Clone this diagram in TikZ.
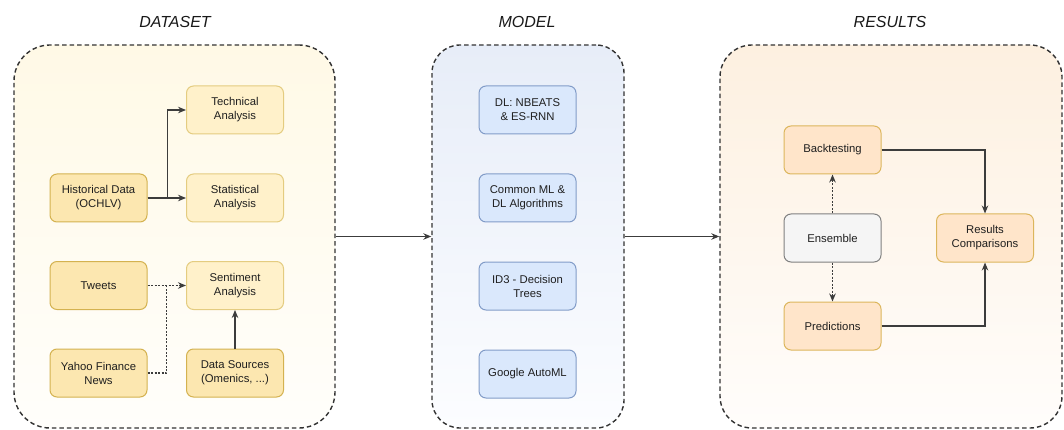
\documentclass[tikz,border=0pt]{standalone}
\usepackage{fontspec}
\setmainfont{Liberation Sans}
\usetikzlibrary{arrows.meta,calc}

\definecolor{dsTop}{RGB}{255,249,230}
\definecolor{dsBot}{RGB}{255,254,251}
\definecolor{mdTop}{RGB}{231,237,248}
\definecolor{mdBot}{RGB}{252,253,255}
\definecolor{rsTop}{RGB}{253,240,224}
\definecolor{rsBot}{RGB}{255,253,251}
\definecolor{yelFill}{RGB}{252,231,176}
\definecolor{yelLight}{RGB}{255,241,202}
\definecolor{yelLine}{RGB}{212,178,80}
\definecolor{yelLineL}{RGB}{228,204,128}
\definecolor{bluFill}{RGB}{218,232,252}
\definecolor{bluLine}{RGB}{130,156,200}
\definecolor{orgFill}{RGB}{255,229,202}
\definecolor{orgLine}{RGB}{220,182,92}
\definecolor{gryFill}{RGB}{245,245,245}
\definecolor{gryLine}{RGB}{128,128,128}
\definecolor{ink}{RGB}{60,60,60}

\tikzset{
  container/.style={draw=ink!85!black, line width=1.4pt, dash pattern=on 4.5pt off 3pt,
    rounded corners=32pt, inner sep=0pt},
  title/.style={font=\itshape\fontsize{16}{19}\selectfont, text=black!90},
  box/.style={rounded corners=7pt, minimum width=97pt, minimum height=48pt,
    line width=1pt, align=center, inner sep=2pt,
    font=\fontsize{11.3}{14}\selectfont, text=black!88},
  yel/.style={box, fill=yelFill, draw=yelLine},
  yell/.style={box, fill=yelLight, draw=yelLineL},
  blu/.style={box, fill=bluFill, draw=bluLine},
  org/.style={box, fill=orgFill, draw=orgLine},
  gry/.style={box, fill=gryFill, draw=gryLine},
  arr/.style={draw=ink, line width=1.2pt, -{Stealth[length=8pt,width=6.5pt]}},
  dotarr/.style={arr, dash pattern=on 2pt off 1.5pt},
  dotline/.style={draw=ink, line width=1.2pt, dash pattern=on 2pt off 1.5pt},
}

\begin{document}
\begin{tikzpicture}[x=1pt, y=-1pt]
\useasboundingbox (0,0) rectangle (1064,430);

% section frames
\node[container, top color=dsTop, bottom color=dsBot,
      minimum width=321pt, minimum height=383pt, rounded corners=36pt]
      (dsbox) at (174.5,236.5) {};
\node[container, top color=mdTop, bottom color=mdBot,
      minimum width=192pt, minimum height=383pt, rounded corners=28pt]
      (mdbox) at (528,236.5) {};
\node[container, top color=rsTop, bottom color=rsBot,
      minimum width=342pt, minimum height=383pt]
      (rsbox) at (891,236.5) {};

% section titles
\node[title] (tds) at (175,22) {DATASET};
\node[title] (tmd) at (527,22) {MODEL};
\node[title] (trs) at (890,22) {RESULTS};

% dataset
\node[yel]  (hist)   at (98.5,198) {Historical Data\\(OCHLV)};
\node[yell] (tech)   at (235,110)  {Technical\\Analysis};
\node[yell] (stat)   at (235,198)  {Statistical\\Analysis};
\node[yel]  (tweets) at (98.5,285.5) {Tweets};
\node[yell] (sent)   at (235,285.5) {Sentiment\\Analysis};
\node[yel]  (yahoo)  at (98.5,373) {Yahoo Finance\\News};
\node[yel]  (dsrc)   at (235,373)  {Data Sources\\(Omenics, ...)};

% models
\node[blu] (dl)   at (527.5,110) {DL: NBEATS\\\& ES-RNN};
\node[blu] (cml)  at (527.5,198) {Common ML \&\\DL Algorithms};
\node[blu] (id3)  at (527.5,286) {ID3 - Decision\\Trees};
\node[blu] (gaml) at (527.5,374) {Google AutoML};

% results
\node[org] (back) at (832.5,150) {Backtesting};
\node[gry] (ens)  at (832.5,238) {Ensemble};
\node[org] (pred) at (832.5,326) {Predictions};
\node[org] (rc)   at (985,238)   {Results\\Comparisons};

% dataset connectors
\draw[arr] (hist.east) -- ++(20,0) |- (tech.west);
\draw[arr] (hist.east) -- (stat.west);
\coordinate (join) at ($(tweets.east)!0.5!(sent.west)$);
\draw[dotarr] (tweets.east) -- (sent.west);
\draw[dotline] (yahoo.east) -| (join);
\draw[arr] (dsrc.north) -- (sent.south);

% flow between sections
\draw[arr] (dsbox.east) -- (mdbox.west);
\draw[arr] (mdbox.east) -- (rsbox.west);

% results connectors
\draw[dotarr] (ens.north) -- (back.south);
\draw[dotarr] (ens.south) -- (pred.north);
\draw[arr] (back.east) -| (rc.north);
\draw[arr] (pred.east) -| (rc.south);
\end{tikzpicture}
\end{document}
